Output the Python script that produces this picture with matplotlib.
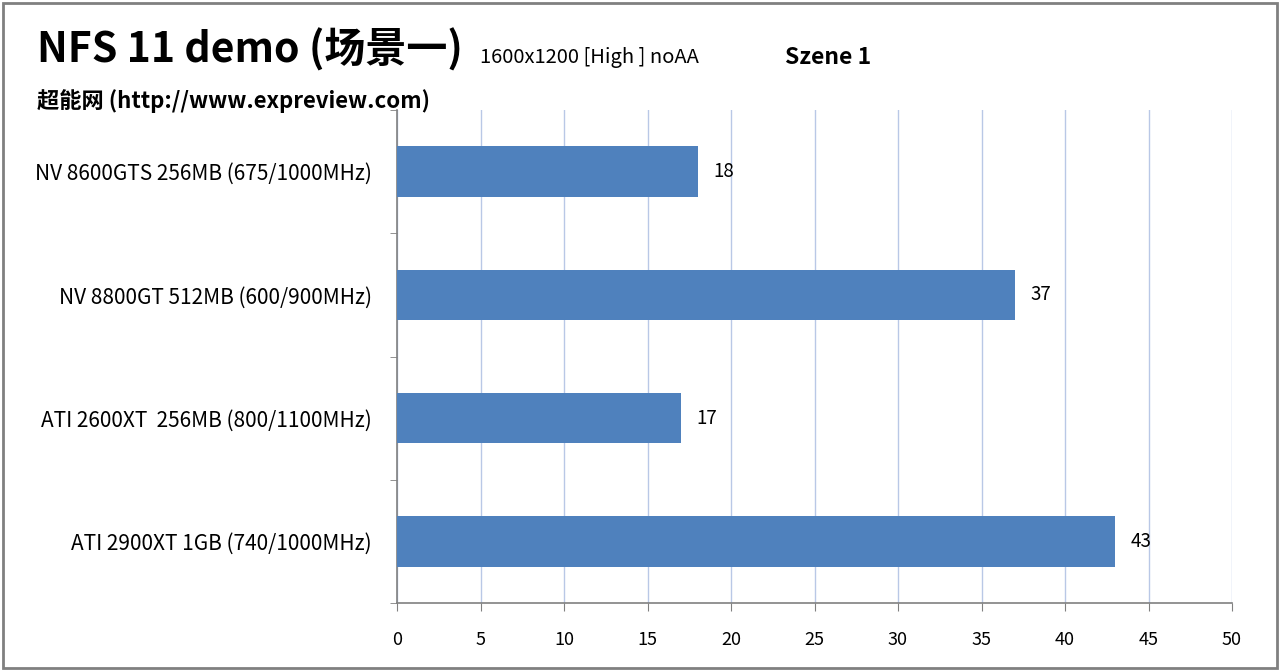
import matplotlib.pyplot as plt
from matplotlib.patches import Rectangle

plt.rcParams['font.family'] = ['Noto Sans CJK SC', 'DejaVu Sans']

# 数据
cards = ['NV 8600GTS 256MB (675/1000MHz)', 'NV 8800GT 512MB (600/900MHz)',
         'ATI 2600XT  256MB (800/1100MHz)', 'ATI 2900XT 1GB (740/1000MHz)']
fps = [18, 37, 17, 43]
xticks = [0, 5, 10, 15, 20, 25, 30, 35, 40, 45, 50]

fig = plt.figure(figsize=(12.8, 6.71), dpi=100)
ax = fig.add_axes([397/1280, 1 - 603/671, (1232-397)/1280, (603-110)/671])

ypos = list(range(len(cards)))
bars = ax.barh(ypos, fps, height=0.41, color='#4f81bd', zorder=3)
ax.bar_label(bars, padding=11, fontsize=13.5)
ax.set_ylim(len(cards) - 0.5, -0.5)
ax.set_xlim(0, 50)
ax.set_xticks(xticks)
ax.set_yticks(ypos)
ax.set_yticklabels(cards, fontsize=15)
ax.set_yticks([i + 0.5 for i in range(-1, len(cards))], minor=True)
ax.tick_params(axis='y', which='major', length=0, pad=18)
ax.tick_params(axis='y', which='minor', length=5, color='#808080')
ax.tick_params(axis='x', length=6, color='#808080', labelsize=13, pad=14)
ax.grid(axis='x', color='#b9c8e6', linewidth=1, zorder=0)
for s in ['top', 'right']:
    ax.spines[s].set_visible(False)
for s in ['left', 'bottom']:
    ax.spines[s].set_color('#808080')
    ax.spines[s].set_linewidth(1.2)

# 标题
fig.text(37/1280, 1 - 50/671, 'NFS 11 demo (场景一)', fontsize=29.5, fontweight='bold', va='center')
fig.text(480/1280, 1 - 57/671, '1600x1200 [High ] noAA', fontsize=14.5, va='center')
fig.text(785/1280, 1 - 57/671, 'Szene 1', fontsize=16.5, fontweight='bold', va='center')
fig.text(37/1280, 1 - 101/671, '超能网 (http://www.expreview.com)', fontsize=16, fontweight='bold', va='center')

fig.patches.append(Rectangle((0.002, 0.004), 0.996, 0.992, transform=fig.transFigure,
                             fill=False, edgecolor='#808080', linewidth=2))

fig.savefig('out.png', dpi=100)
